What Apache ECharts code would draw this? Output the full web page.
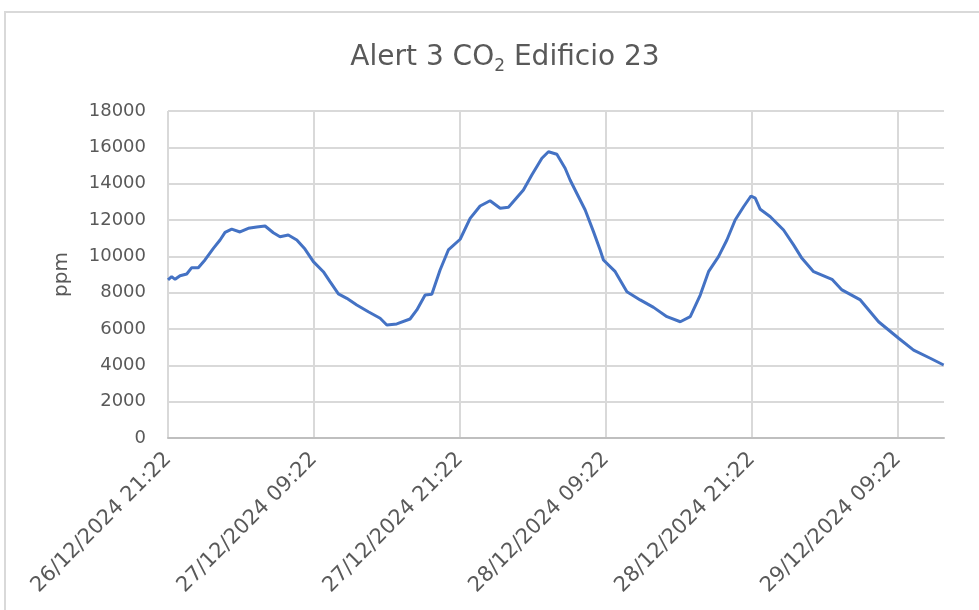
<!DOCTYPE html>
<html>
<head>
<meta charset="utf-8">
<script src="https://cdn.jsdelivr.net/npm/echarts@6/dist/echarts.min.js"></script>
<style>
  html, body { margin: 0; padding: 0; background: #fff; }
  #chart { width: 979px; height: 610px; }
</style>
</head>
<body>
<div id="chart"></div>
<script>
var chartDom = document.getElementById('chart')
var chart = echarts.init(chartDom)

// hours since 26/12/2024 21:22
var hours = [
  0, 0.30, 0.58, 0.99, 1.54, 1.95, 2.49, 3.04, 3.73, 4.28, 4.69, 5.24, 5.92, 6.60,
  7.30, 7.98, 8.66, 9.21, 9.89, 10.59, 11.26, 11.95, 12.77, 13.32, 14.01, 14.70,
  15.52, 16.47, 17.44, 17.99, 18.81, 19.90, 20.46, 21.14, 21.69, 22.37, 23.05,
  24.02, 24.84, 25.66, 26.48, 27.31, 27.99, 29.22, 29.91, 30.74, 31.28, 31.97,
  32.65, 33.06, 33.75, 34.30, 34.98, 35.53, 35.80, 36.77, 37.73, 38.82, 39.92,
  41.02, 42.12, 42.94, 43.76, 44.44, 45.26, 45.95, 46.63, 47.32, 47.93, 48.28,
  48.69, 49.52, 50.61, 51.43, 52.12, 53.08, 54.59, 55.41, 56.92, 58.42, 60.07,
  61.30, 62.67, 63.77
]
var ppm = [
  8700, 8880, 8735, 8935, 9030, 9375, 9375, 9800, 10440, 10900, 11320, 11500, 11340, 11540,
  11610, 11670, 11300, 11080, 11175, 10900, 10400, 9710, 9155, 8605, 7930, 7690,
  7320, 6950, 6590, 6220, 6280, 6550, 7050, 7870, 7910, 9250, 10350,
  10940, 12090, 12770, 13060, 12650, 12700, 13650, 14480, 15400, 15760, 15620,
  14850, 14200, 13280, 12550, 11360, 10350, 9800, 9155, 8050, 7600, 7190,
  6680, 6400, 6680, 7870, 9155, 9980, 10900, 12000, 12730, 13320, 13200,
  12590, 12180, 11450, 10630, 9890, 9155, 8735, 8150, 7600, 6400, 5490,
  4840, 4390, 4020
]
var yMin = 0
var yMax = 18000
var yStep = 2000
var xStep = 12
var xEnd = 63.8
var startTime = new Date(2024, 11, 26, 21, 22)

function pad(n) {
  return (n < 10 ? '0' : '') + n
}

function formatHour(h) {
  var d = new Date(startTime.getTime() + h * 3600 * 1000)
  return (
    pad(d.getDate()) + '/' + pad(d.getMonth() + 1) + '/' + d.getFullYear() +
    ' ' + pad(d.getHours()) + ':' + pad(d.getMinutes())
  )
}

var seriesData = []
for (var i = 0; i < hours.length; i++) {
  seriesData.push([hours[i], ppm[i]])
}

var gridColor = '#d9d9d9'
var textColor = '#595959'
var fontName = 'DejaVu Sans'

var option = {
  animation: false,
  backgroundColor: '#ffffff',
  title: {
    text: 'Alert 3 CO{sub|2} Edificio 23',
    left: 500,
    top: 36,
    textAlign: 'center',
    textStyle: {
      fontFamily: fontName,
      fontSize: 28,
      fontWeight: 'normal',
      color: textColor,
      lineHeight: 34,
      rich: {
        sub: {
          fontFamily: fontName,
          fontSize: 17,
          color: textColor,
          lineHeight: 12,
          verticalAlign: 'bottom',
        },
      },
    },
  },
  graphic: [
    {
      type: 'rect',
      shape: { x: 5, y: 12, width: 1000, height: 700 },
      style: { fill: 'none', stroke: gridColor, lineWidth: 2 },
      silent: true,
    },
  ],
  grid: {
    left: 168,
    right: 35,
    top: 111,
    bottom: 172,
  },
  xAxis: {
    type: 'value',
    min: 0,
    max: xEnd,
    interval: xStep,
    axisLine: { show: true, lineStyle: { color: '#bfbfbf', width: 2 } },
    axisTick: { show: false },
    axisLabel: {
      rotate: 45,
      margin: 18,
      showMaxLabel: false,
      fontFamily: fontName,
      fontSize: 21,
      color: textColor,
      formatter: function (v) {
        return formatHour(v)
      },
    },
    splitLine: {
      show: true,
      lineStyle: {
        color: [gridColor, gridColor, gridColor, gridColor, gridColor, gridColor, 'rgba(0,0,0,0)'],
        width: 2,
      },
    },
  },
  yAxis: {
    type: 'value',
    min: yMin,
    max: yMax,
    interval: yStep,
    name: 'ppm',
    nameLocation: 'middle',
    nameRotate: 90,
    nameGap: 96,
    nameTextStyle: {
      fontFamily: fontName,
      fontSize: 20,
      color: textColor,
    },
    axisLine: { show: false },
    axisTick: { show: false },
    axisLabel: {
      margin: 22,
      fontFamily: fontName,
      fontSize: 18,
      color: textColor,
      formatter: function (v) {
        return String(v)
      },
    },
    splitLine: {
      show: true,
      lineStyle: { color: gridColor, width: 2 },
    },
  },
  series: [
    {
      name: 'CO2',
      type: 'line',
      data: seriesData,
      showSymbol: false,
      smooth: false,
      lineStyle: { color: '#4472c4', width: 3 },
      itemStyle: { color: '#4472c4' },
    },
  ],
}

chart.setOption(option)
</script>
</body>
</html>
